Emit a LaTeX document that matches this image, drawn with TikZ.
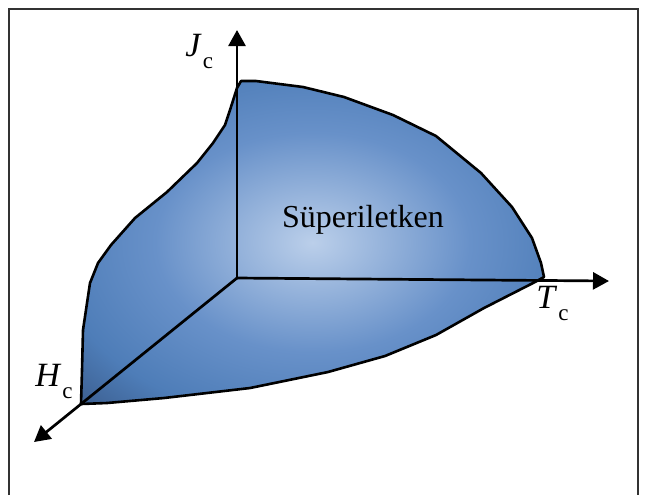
\documentclass[tikz,border=0pt]{standalone}
\usepackage{fontspec}
\setmainfont{Liberation Serif}
\usepackage{tikz}
\usetikzlibrary{arrows.meta}
\definecolor{surflight}{HTML}{BBCFEA}
\definecolor{surfmid}{HTML}{6891C9}
\definecolor{surfedge}{HTML}{4E7DB8}
\definecolor{surfdeep}{HTML}{3D6193}
\definecolor{surfdark}{HTML}{2E4C75}
\pgfdeclareradialshading{surfshade}{\pgfpoint{0bp}{0bp}}{%
  color(0bp)=(surflight); color(17bp)=(surfmid); color(28bp)=(surfedge);
  color(35bp)=(surfdeep); color(43bp)=(surfdark); color(76bp)=(surfdark)}
\tikzset{
  axisline/.style  = {line width=1.35pt, -{Triangle[length=8pt, width=8.5pt]}},
  surface/.style   = {draw=black, line width=1.3pt, line join=round, shading=surfshade},
  frameline/.style = {draw=black!80, line width=0.7pt},
}
\newcommand{\critsym}[1]{\textit{#1}\kern0.5pt\raisebox{-6pt}{\fontsize{11.5}{11.5}\selectfont c}}

\begin{document}
\begin{tikzpicture}[
    x=0.5pt, y=-0.5pt,
    every node/.style ={font=\fontsize{16}{16}\selectfont, inner sep=0pt},
    critlabel/.style  ={anchor=base west, font=\fontsize{17}{17}\selectfont}
  ]
  \useasboundingbox (0,0) rectangle (646,495);

  %% --- Outer frame (open at the bottom) -------------------------------
  \draw[frameline] (9,495) |- (638,9) -- (638,495);

  %% --- Axis ends --------------------------------------------------------
  \coordinate (O)    at (237,278);
  \coordinate (Jtip) at (237,30);
  \coordinate (Ttip) at (609,281);
  \coordinate (Htip) at (34,442);
  \coordinate (Jtop) at (241,81);
  \coordinate (Tend) at (535,282);
  \coordinate (Hend) at (81,404);

  %% --- Critical surface -------------------------------------------------
  \path[surface] (Hend)
      -- (82,370) -- (83,330) -- (90,283) -- (98,263) -- (111,245)
      -- (135,218) -- (167,192) -- (197,163) -- (213,143) -- (225,125)
      -- (230,110) -- (237,88) -- (Jtop)
      -- (256,81) -- (303,87) -- (344,97) -- (393,115) -- (436,136)
      -- (481,173) -- (512,207) -- (532,238) -- (541,263) -- (544,277)
      -- (Tend)
      -- (484,308) -- (436,335) -- (385,356) -- (328,372) -- (250,388)
      -- (164,398) -- (107,403) -- cycle;

  \node[anchor=base] (sup) at (363,227) {Süperiletken};

  %% --- Axes -------------------------------------------------------------
  \draw[axisline] (O) -- (Jtip);
  \draw[axisline] (O) -- (Ttip);
  \draw[axisline] (O) -- (Htip);

  \node[critlabel] (Jc) at (185,56)  {\critsym{J}};
  \node[critlabel] (Tc) at (536,308) {\critsym{T}};
  \node[critlabel] (Hc) at (35,386)  {\critsym{H}};
\end{tikzpicture}
\end{document}
